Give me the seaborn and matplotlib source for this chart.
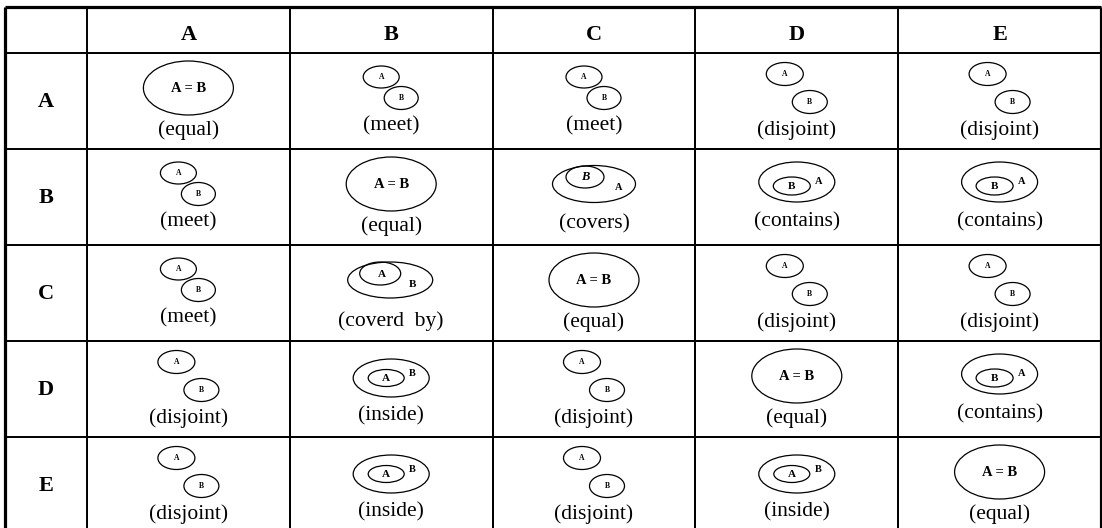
import numpy as np
import matplotlib
matplotlib.use('Agg')
import matplotlib.pyplot as plt
from matplotlib.colors import ListedColormap
from matplotlib.patches import Ellipse
import seaborn as sns

# table content
categories = ['A', 'B', 'C', 'D', 'E']
relations = [
    ['equal', 'meet', 'meet', 'disjoint', 'disjoint'],
    ['meet', 'equal', 'covers', 'contains', 'contains'],
    ['meet', 'coverd  by', 'equal', 'disjoint', 'disjoint'],
    ['disjoint', 'inside', 'disjoint', 'equal', 'contains'],
    ['disjoint', 'inside', 'disjoint', 'inside', 'equal'],
]

# little diagram per relation, offsets in pixels from (cell centre x, cell top y)
# ellipses: (dx, dy, w, h); letters: (text, dx, dy, size, style)
diagrams = {
    'equal': dict(ellipses=[(0, 35, 90, 54)],
                  letters=[('A = B', 0, 35, 10.5, 'normal')], label_y=77),
    'meet': dict(ellipses=[(-10, 24, 36, 22), (10, 45, 34, 23)],
                 letters=[('A', -10, 24, 5.5, 'normal'), ('B', 10, 45, 5.5, 'normal')], label_y=73),
    'disjoint': dict(ellipses=[(-12, 21, 37, 23), (13, 49, 35, 23)],
                     letters=[('A', -12, 21, 5.5, 'normal'), ('B', 13, 49, 5.5, 'normal')], label_y=77),
    'covers': dict(ellipses=[(0, 35, 83, 37), (-9, 28, 38, 22)],
                   letters=[('B', -9, 28, 9, 'italic'), ('A', 25, 38, 7.5, 'normal')], label_y=75),
    'coverd  by': dict(ellipses=[(-1, 35, 85, 36), (-11, 28.5, 41, 23)],
                       letters=[('A', -9, 29, 8, 'normal'), ('B', 21, 39, 8, 'normal')], label_y=76),
    'contains': dict(ellipses=[(0, 33, 76, 40), (-5, 37, 37, 18)],
                     letters=[('B', -5, 37, 8, 'normal'), ('A', 22, 32, 7.5, 'normal')], label_y=73),
    'inside': dict(ellipses=[(0, 37, 76, 38), (-5, 37, 36, 17)],
                   letters=[('A', -5, 37, 8, 'normal'), ('B', 21, 32, 7.5, 'normal')], label_y=75),
}

sns.set_theme(style='white')
plt.rcParams['font.family'] = ['Liberation Serif', 'DejaVu Serif']

W, H = 1102, 528
body_left, body_right, body_top, body_bottom = 87, 1101, 53, 533
table_left, table_top = 5, 6.5

fig = plt.figure(figsize=(W / 100, H / 100), dpi=100)
fig.patch.set_facecolor('white')
ax = fig.add_axes([body_left / W, 1 - body_bottom / H,
                   (body_right - body_left) / W, (body_bottom - body_top) / H])

n = len(categories)
sns.heatmap(np.zeros((n, n)), ax=ax, cmap=ListedColormap(['white']), cbar=False,
            linewidths=1.4, linecolor='black', xticklabels=False, yticklabels=False)

cw = (body_right - body_left) / n
ch = (body_bottom - body_top) / n
x0 = (table_left - body_left) / cw
y0 = (table_top - body_top) / ch

# grid lines for header row and label column, plus the thick frame
thin = dict(colors='black', linewidth=1.4, clip_on=False)
thick = dict(colors='black', linewidth=2.3, clip_on=False)
ax.hlines(0, x0, n, **thin)
ax.hlines(np.arange(1, n), x0, 0, **thin)
ax.vlines(np.arange(0, n), y0, 0, **thin)
ax.vlines(0, 0, n, **thin)
ax.hlines(y0, x0, n, **thick)
ax.vlines([x0, n], y0, n, **thick)

font = dict(family='Liberation Serif', color='black')
for j, cat in enumerate(categories):
    ax.text(j + 0.5, (40 - body_top) / ch, cat, ha='center', va='baseline',
            fontsize=16, fontweight='bold', clip_on=False, **font)
for i, cat in enumerate(categories):
    ax.text(x0 / 2, i + 54 / ch, cat, ha='center', va='baseline',
            fontsize=16, fontweight='bold', clip_on=False, **font)

for i, row in enumerate(relations):
    for j, rel in enumerate(row):
        d = diagrams[rel]
        cx = j + 0.5
        for dx, dy, w, h in d['ellipses']:
            ax.add_patch(Ellipse((cx + dx / cw, i + dy / ch), w / cw, h / ch,
                                 fill=False, edgecolor='black', linewidth=0.9))
        for txt, dx, dy, size, style in d['letters']:
            ax.text(cx + dx / cw, i + dy / ch, txt, ha='center', va='center',
                    fontsize=size, fontweight='bold', fontstyle=style, **font)
        ax.text(cx, i + d['label_y'] / ch, '(' + rel + ')', ha='center', va='center',
                fontsize=15.5, clip_on=False, **font)

fig.savefig('out.png', dpi=100, facecolor='white')
